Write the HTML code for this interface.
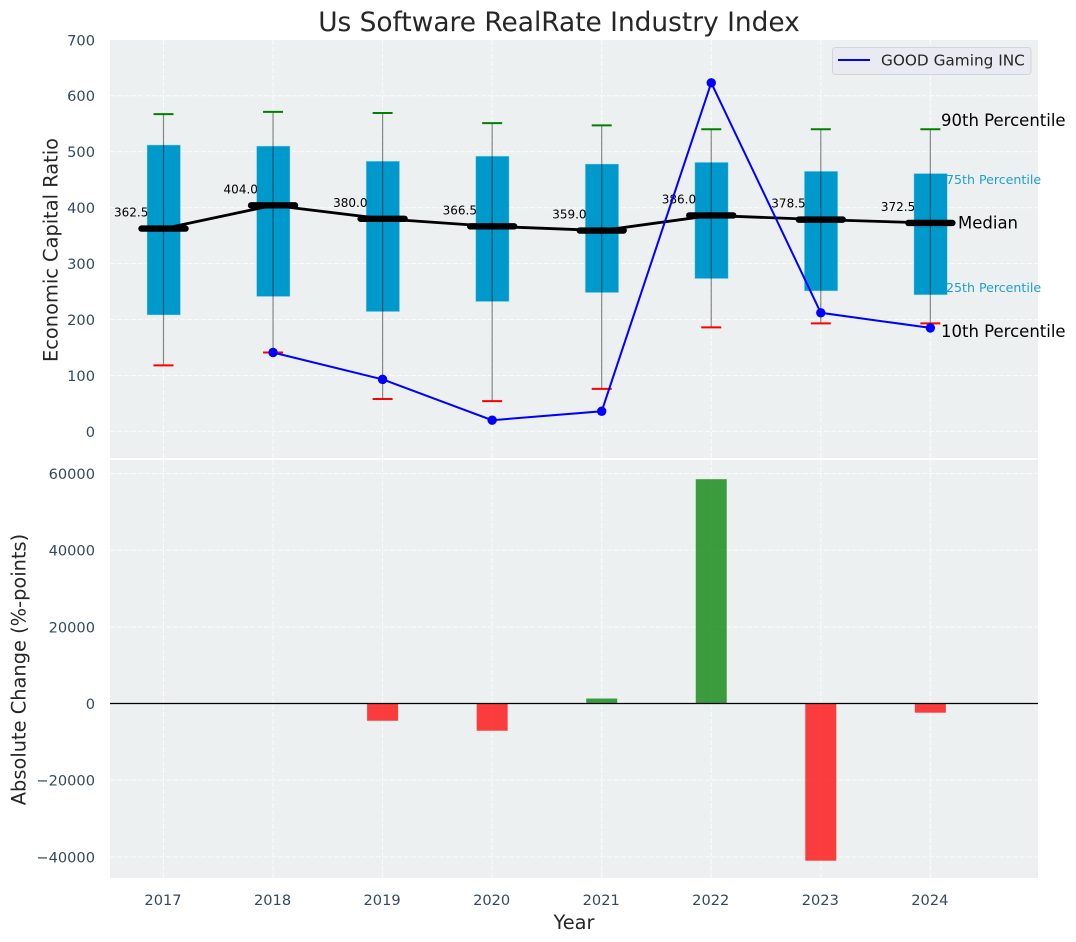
<!DOCTYPE html>
<html lang="en">
<head>
<meta charset="utf-8">
<title>Us Software RealRate Industry Index</title>
<style>
html,body{margin:0;padding:0;background:#fff;}
svg{display:block;font-family:"DejaVu Sans","Liberation Sans",sans-serif;}
</style>
</head>
<body>
<svg id="chart" xmlns="http://www.w3.org/2000/svg" width="1076" height="942" viewBox="0 0 1076 942">
  <rect x="110" y="40" width="928" height="418" fill="#ecf0f1"/>
  <rect x="110" y="460" width="928" height="418" fill="#ecf0f1"/>
  <g id="grid"></g>
  <g id="ticks"></g>
  <g id="top-marks"></g>
  <g id="bottom-marks"></g>
  <text x="559" y="31" font-size="26.4" fill="#262626" text-anchor="middle">Us Software RealRate Industry Index</text>
  <text transform="translate(57.5,250) rotate(-90)" font-size="19.4" fill="#262626" text-anchor="middle">Economic Capital Ratio</text>
  <text transform="translate(25.5,669.5) rotate(-90)" font-size="19.4" fill="#262626" text-anchor="middle">Absolute Change (%-points)</text>
  <text x="574" y="929" font-size="19.4" fill="#262626" text-anchor="middle">Year</text>
  <g>
    <rect x="832.5" y="47.5" width="198.5" height="27" rx="3" fill="#eaeaf2" stroke="#d4d4d8" stroke-width="1"/>
    <line x1="838" y1="60" x2="870" y2="60" stroke="#0000ff" stroke-width="2"/>
    <text x="881" y="65.5" font-size="15.3" fill="#262626">GOOD Gaming INC</text>
  </g>
  <g>
    <text x="941" y="126" font-size="16.5" fill="#000">90th Percentile</text>
    <text x="946" y="184" font-size="12.6" fill="#1f9fd0">75th Percentile</text>
    <text x="958" y="228.5" font-size="16.5" fill="#000">Median</text>
    <text x="946" y="292" font-size="12.6" fill="#1f9fd0">25th Percentile</text>
    <text x="941" y="337" font-size="16.5" fill="#000">10th Percentile</text>
  </g>
</svg>
<script>
const years = [2017, 2018, 2019, 2020, 2021, 2022, 2023, 2024];
const p10 = [118, 141, 58, 54, 76, 186, 193, 193];
const p25 = [208, 241, 214, 232, 248, 273, 251, 244];
const medians = [362.5, 404.0, 380.0, 366.5, 359.0, 386.0, 378.5, 372.5];
const p75 = [512, 510, 483, 492, 478, 481, 465, 461];
const p90 = [567, 571, 569, 551, 547, 540, 540, 540];
const companyValues = [null, 141, 93, 20, 36, 623, 212, 185];
const changeValues = [null, null, -4500, -7100, 1300, 58500, -41000, -2400];
const topTicks = [0, 100, 200, 300, 400, 500, 600, 700];
const bottomTicks = [-40000, -20000, 0, 20000, 40000, 60000];

const NS = 'http://www.w3.org/2000/svg';
function xScale(year) { return 163.5 + (year - 2017) * 109.55; }
function yTop(v) { return 431.4 - v * 0.5595; }
function yBottom(v) { return 703.5 - v * 0.003834; }
function make(parent, tag, attrs, text) {
  const el = document.createElementNS(NS, tag);
  for (const k in attrs) el.setAttribute(k, attrs[k]);
  if (text !== undefined) el.textContent = text;
  parent.appendChild(el);
  return el;
}

const grid = document.getElementById('grid');
const ticks = document.getElementById('ticks');
const topMarks = document.getElementById('top-marks');
const bottomMarks = document.getElementById('bottom-marks');
const gridStyle = { stroke: '#ffffff', 'stroke-width': 1, 'stroke-dasharray': '5 2', 'stroke-opacity': 0.75 };

years.forEach(function (year) {
  const x = xScale(year);
  const a = make(grid, 'line', Object.assign({ x1: x, x2: x, y1: 40, y2: 458 }, gridStyle));
  
  
  const b = make(grid, 'line', Object.assign({ x1: x, x2: x, y1: 460, y2: 878 }, gridStyle));
  
  
  const t = make(ticks, 'text', { x: x - 0.5, y: 905, 'font-size': 14.6, fill: '#34495e', 'text-anchor': 'middle' }, String(year));
  
  
});

topTicks.forEach(function (v) {
  const y = yTop(v);
  if (y >= 40) {
    const g = make(grid, 'line', Object.assign({ x1: 110, x2: 1038, y1: y, y2: y }, gridStyle));
    
    
  }
  const t = make(ticks, 'text', { x: 95, y: y + 5.5, 'font-size': 14.6, fill: '#34495e', 'text-anchor': 'end' }, String(v));
  
  
});

bottomTicks.forEach(function (v) {
  const y = yBottom(v);
  const g = make(grid, 'line', Object.assign({ x1: 110, x2: 1038, y1: y, y2: y }, gridStyle));
  
  
  const t = make(ticks, 'text', { x: 95, y: y + 5.5, 'font-size': 14.6, fill: '#34495e', 'text-anchor': 'end' }, String(v).replace('-', '\u2212'));
  
  
});

years.forEach(function (year, i) {
  const x = xScale(year);
  const box = make(topMarks, 'rect', { x: x - 16.5, y: yTop(p75[i]), width: 33.5, height: yTop(p25[i]) - yTop(p75[i]), fill: '#0099cc', stroke: '#bfe3ee', 'stroke-width': 0.8, 'stroke-opacity': 0.6 });
  
  
  const w = make(topMarks, 'line', { x1: x, x2: x, y1: yTop(p10[i]), y2: yTop(p90[i]), stroke: '#000', 'stroke-width': 1.2, 'stroke-opacity': 0.45 });
  
  
  const capHi = make(topMarks, 'line', { x1: x - 10, x2: x + 10, y1: yTop(p90[i]), y2: yTop(p90[i]), stroke: '#008000', 'stroke-width': 2 });
  
  
  const capLo = make(topMarks, 'line', { x1: x - 10, x2: x + 10, y1: yTop(p10[i]), y2: yTop(p10[i]), stroke: '#ff0000', 'stroke-width': 2 });
  
  
});

const medianPoints = years.map(function (year, i) { return xScale(year) + ',' + yTop(medians[i]); }).join(' ');
const medianLine = make(topMarks, 'polyline', { points: medianPoints, fill: 'none', stroke: '#000', 'stroke-width': 2.8 });



years.forEach(function (year, i) {
  const x = xScale(year);
  const y = yTop(medians[i]);
  const m = make(topMarks, 'line', { x1: x - 22, x2: x + 22, y1: y, y2: y, stroke: '#000', 'stroke-width': 6.4, 'stroke-linecap': 'round' });
  
  
  const t = make(topMarks, 'text', { x: x - 49.5, y: y - 12, 'font-size': 12, fill: '#000' }, medians[i].toFixed(1));
  
  
});

const companyPoints = [];
years.forEach(function (year, i) {
  if (companyValues[i] !== null) companyPoints.push(xScale(year) + ',' + yTop(companyValues[i]));
});
const companyLine = make(topMarks, 'polyline', { points: companyPoints.join(' '), fill: 'none', stroke: '#0000ff', 'stroke-width': 2 });


years.forEach(function (year, i) {
  if (companyValues[i] === null) return;
  const c = make(topMarks, 'circle', { cx: xScale(year), cy: yTop(companyValues[i]), r: 4.7, fill: '#0000ff' });
  
  
});

years.forEach(function (year, i) {
  const v = changeValues[i];
  if (v === null) return;
  const top = Math.min(yBottom(v), yBottom(0));
  const h = Math.abs(yBottom(v) - yBottom(0));
  const r = make(bottomMarks, 'rect', { x: xScale(year) - 15.5, y: top, width: 31, height: h, fill: v >= 0 ? '#008000' : '#ff0000', 'fill-opacity': 0.75 });
  
  
});
const zero = make(bottomMarks, 'line', { x1: 110, x2: 1038, y1: yBottom(0), y2: yBottom(0), stroke: '#000', 'stroke-width': 1.2 });


</script>
</body>
</html>
